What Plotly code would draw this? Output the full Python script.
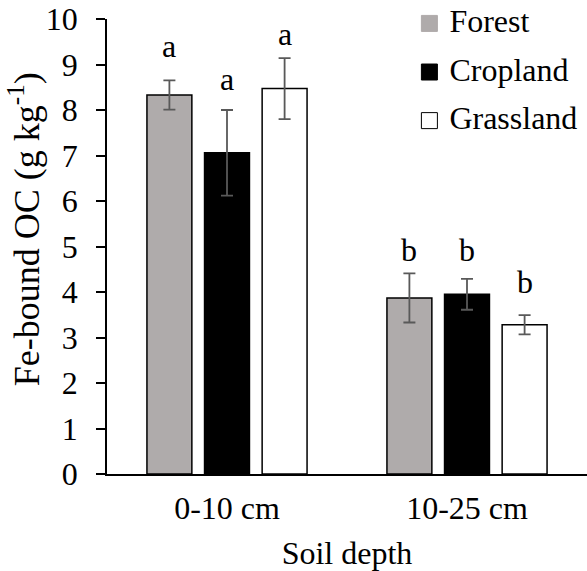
import plotly.graph_objects as go

depths = ["0-10 cm", "10-25 cm"]
land_uses = ["Forest", "Cropland", "Grassland"]
means = {
    "Forest": [8.33, 3.87],
    "Cropland": [7.06, 3.95],
    "Grassland": [8.47, 3.28],
}
errors = {
    "Forest": [0.32, 0.54],
    "Cropland": [0.94, 0.34],
    "Grassland": [0.67, 0.21],
}
letters = {
    "Forest": ["a", "b"],
    "Cropland": ["a", "b"],
    "Grassland": ["a", "b"],
}
letter_y = {
    "Forest": [9.15, 4.65],
    "Cropland": [8.42, 4.65],
    "Grassland": [9.41, 3.95],
}
yticks = [0, 1, 2, 3, 4, 5, 6, 7, 8, 9, 10]

fills = {"Forest": "#AFABAB", "Cropland": "#000000", "Grassland": "#FFFFFF"}
legend_lines = {"Forest": "#AFABAB", "Cropland": "#000000", "Grassland": "#000000"}
FONT = "Liberation Serif, Times New Roman, serif"
FS = 32

fig = go.Figure()
for lu in land_uses:
    fig.add_trace(go.Bar(
        x=depths, y=means[lu], name=lu, showlegend=False,
        marker=dict(color=fills[lu], line=dict(color="black", width=1.5)),
        error_y=dict(type="data", array=errors[lu], visible=True,
                     color="#595959", thickness=1.8, width=6),
    ))
for lu in land_uses:
    fig.add_trace(go.Scatter(
        x=[None], y=[None], mode="markers",
        name='<span style="font-size:%dpx">%s</span>' % (FS, lu), legendgroup=lu,
        marker=dict(symbol="square", size=16, color=fills[lu],
                    line=dict(color=legend_lines[lu], width=1)),
    ))

# significance letters
offsets = {"Forest": -0.24, "Cropland": 0.0, "Grassland": 0.24}
for lu in land_uses:
    for i, d in enumerate(depths):
        fig.add_annotation(
            x=i + offsets[lu], y=letter_y[lu][i], xref="x", yref="y",
            text=letters[lu][i], showarrow=False, yanchor="bottom", yshift=-8,
            font=dict(family=FONT, size=FS, color="black"),
        )

# y-axis title
fig.add_annotation(
    x=-0.173, y=0.538, xref="paper", yref="paper",
    text="Fe-bound OC (g kg<sup>-1</sup>)", textangle=-90, showarrow=False,
    xanchor="center", yanchor="middle",
    font=dict(family=FONT, size=36, color="black"),
)

fig.update_layout(
    width=587, height=571,
    margin=dict(l=107, r=0, t=18.5, b=97.3, pad=0),
    paper_bgcolor="white", plot_bgcolor="white",
    barmode="group", bargap=0.28, bargroupgap=0.22,
    font=dict(family=FONT, size=FS, color="black"),
    legend=dict(x=0.63, y=1.036, xanchor="left", yanchor="top",
                font=dict(family=FONT, size=22, color="black"),
                tracegroupgap=17, bgcolor="rgba(0,0,0,0)"),
    showlegend=True,
)
fig.update_xaxes(
    range=[-0.5, 1.5], showline=True, linecolor="black", linewidth=1.5,
    ticks="", showgrid=False, zeroline=False, ticklabelstandoff=5,
    title=dict(text="Soil depth", font=dict(family=FONT, size=FS), standoff=17),
)
fig.update_yaxes(
    range=[0, 10], tickvals=yticks, showline=True, linecolor="black", linewidth=1.5,
    ticks="outside", ticklen=9, tickwidth=1.5, tickcolor="black",
    showgrid=False, zeroline=False, ticklabelstandoff=12,
)

fig.write_html("out.html")
